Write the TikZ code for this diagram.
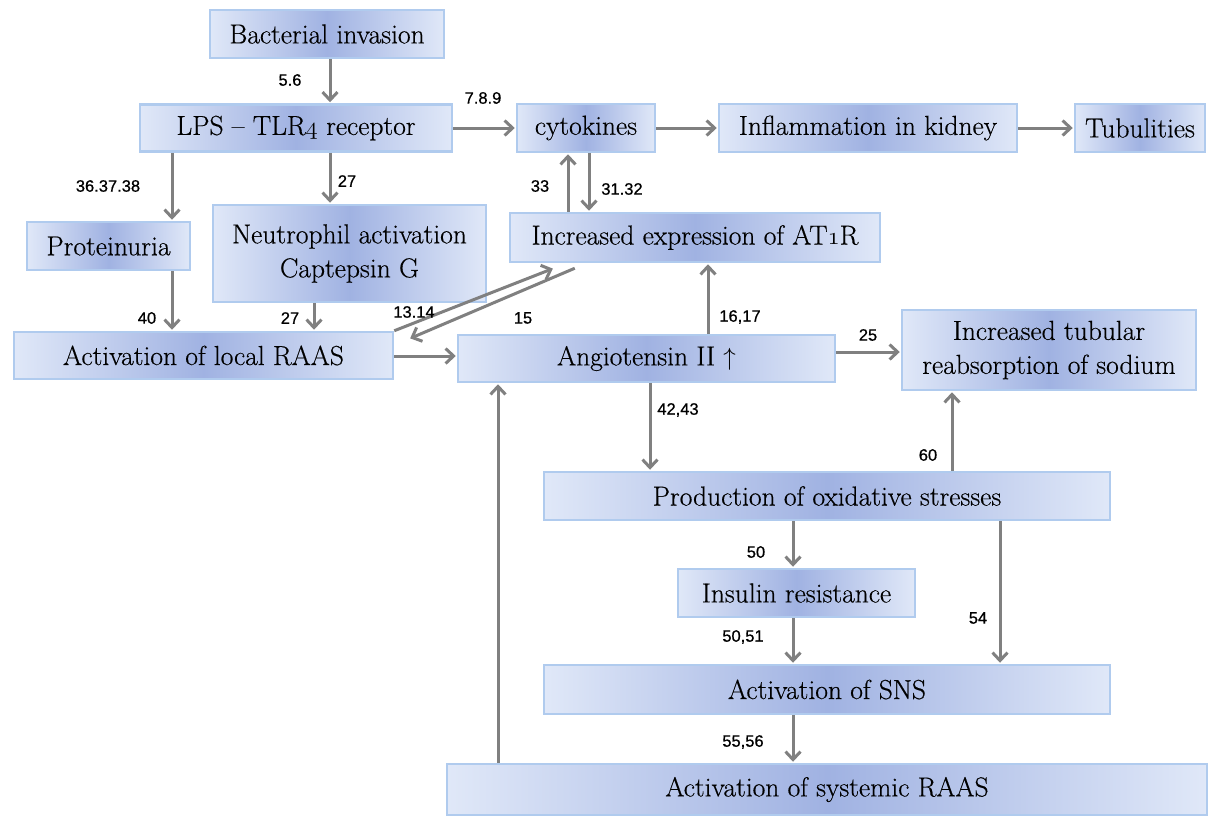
\documentclass[tikz,border=0pt]{standalone}
\usepackage{fontspec}
\setmainfont{Latin Modern Roman}[FakeBold=0.4]
\newfontfamily\labfont{Liberation Sans}[FakeBold=0.7]
\usetikzlibrary{arrows.meta,calc}
\definecolor{edgec}{RGB}{224,232,248}
\definecolor{midc}{RGB}{160,178,226}
\definecolor{bordc}{RGB}{176,203,238}
\definecolor{arrc}{RGB}{128,128,128}
\newcommand{\osn}[1]{\ensuremath{\mathnormal{#1}}}
\tikzset{
  box/.style={draw=bordc, line width=2.5pt, left color=edgec, right color=edgec, middle color=midc,
    inner sep=0pt, align=center, font=\fontsize{27.5}{34}\selectfont, text=black},
  arr/.style={draw=arrc, line width=3pt, -{Straight Barb[length=8pt,width=15pt]}, shorten >=1pt},
  lab/.style={font=\labfont\fontsize{16.5}{19}\selectfont, inner sep=0pt, text=black}
}
\begin{document}
\begin{tikzpicture}[x=1pt,y=-1pt]
\fill[white] (0,0) rectangle (1217,819);
\useasboundingbox (0,0) rectangle (1217,819);
% boxes
\node[box, minimum width=234, minimum height=48] (bact) at (327,34) {Bacterial invasion};
\node[box, minimum width=312, minimum height=47] (lps) at (296,128) {LPS -- TLR\osn{4} receptor};
\node[box, minimum width=138, minimum height=48] (cyt) at (586,128) {cytokines};
\node[box, minimum width=298, minimum height=48] (infl) at (868,128) {Inflammation in kidney};
\node[box, minimum width=130, minimum height=48] (tub) at (1140,128) {Tubulities};
\node[box, minimum width=163, minimum height=48] (prot) at (108.5,246) {Proteinuria};
\node[box, minimum width=273, minimum height=97] (neut) at (349.5,253.5) {Neutrophil activation\\Captepsin G};
\node[box, minimum width=370, minimum height=49] (at1r) at (695,237.5) {Increased expression of AT\osn{1}R};
\node[box, minimum width=379, minimum height=47] (lraas) at (203.5,355.5) {Activation of local RAAS};
\node[box, minimum width=377, minimum height=47] (ang) at (646.5,358.5) {Angiotensin II $\uparrow$};
\node[box, minimum width=294, minimum height=80] (sod) at (1049,350) {Increased tubular\\reabsorption of sodium};
\node[box, minimum width=566, minimum height=48] (ox) at (827,496) {Production of oxidative stresses};
\node[box, minimum width=237, minimum height=48] (ins) at (796.5,593) {Insulin resistance};
\node[box, minimum width=566, minimum height=49] (sns) at (827,689.5) {Activation of SNS};
\node[box, minimum width=760, minimum height=51] (sys) at (827,789.5) {Activation of systemic RAAS};
% helper columns / rows
\coordinate (c330) at (330,0);
\coordinate (c172) at (172,0);
\coordinate (c314) at (314,0);
\coordinate (c568) at (568,0);
\coordinate (c589) at (589,0);
\coordinate (c708) at (708,0);
\coordinate (c650) at (650,0);
\coordinate (c952) at (952,0);
\coordinate (c793) at (793,0);
\coordinate (c1000) at (1000,0);
\coordinate (c498) at (498,0);
\coordinate (r356) at (0,356);
\coordinate (r352) at (0,352);
% connectors
\draw[arr] (bact.south -| c330) -- (lps.north -| c330);
\draw[arr] (lps.east) -- (cyt.west);
\draw[arr] (cyt.east) -- (infl.west);
\draw[arr] (infl.east) -- (tub.west);
\draw[arr] (lps.south -| c172) -- (prot.north -| c172);
\draw[arr] (lps.south -| c330) -- (neut.north -| c330);
\draw[arr] (at1r.north -| c568) -- (cyt.south -| c568);
\draw[arr] (cyt.south -| c589) -- (at1r.north -| c589);
\draw[arr] (prot.south -| c172) -- (lraas.north -| c172);
\draw[arr] (neut.south -| c314) -- (lraas.north -| c314);
\draw[arr] (lraas.north east) -- ($(at1r.south west)+(45,5)$);
\draw[arr] ($(at1r.south west)+(66,5)$) -- ($(lraas.north east)+(15,8)$);
\draw[arr] (lraas.east |- r356) -- (ang.west |- r356);
\draw[arr] (ang.north -| c708) -- (at1r.south -| c708);
\draw[arr] (ang.east |- r352) -- (sod.west |- r352);
\draw[arr] (ang.south -| c650) -- (ox.north -| c650);
\draw[arr] (ox.north -| c952) -- (sod.south -| c952);
\draw[arr] (ox.south -| c793) -- (ins.north -| c793);
\draw[arr] (ox.south -| c1000) -- (sns.north -| c1000);
\draw[arr] (ins.south -| c793) -- (sns.north -| c793);
\draw[arr] (sns.south -| c793) -- (sys.north -| c793);
\draw[arr] (sys.north -| c498) -- (ang.south -| c498);
% labels
\node[lab] (l1) at (290,80) {5.6};
\node[lab] (l2) at (483,98) {7.8.9};
\node[lab] (l3) at (108,186) {36.37.38};
\node[lab] (l4) at (347,181) {27};
\node[lab] (l5) at (540,186) {33};
\node[lab] (l6) at (622,189) {31.32};
\node[lab] (l7) at (147,318) {40};
\node[lab] (l8) at (290,318) {27};
\node[lab] (l9) at (414,312) {13.14};
\node[lab] (l10) at (523,318) {15};
\node[lab] (l11) at (740,317) {16,17};
\node[lab] (l12) at (868,335) {25};
\node[lab] (l13) at (678,410) {42,43};
\node[lab] (l14) at (928,455) {60};
\node[lab] (l15) at (756,552) {50};
\node[lab] (l16) at (978,618) {54};
\node[lab] (l17) at (743,637) {50,51};
\node[lab] (l18) at (743,742) {55,56};
\end{tikzpicture}
\end{document}
